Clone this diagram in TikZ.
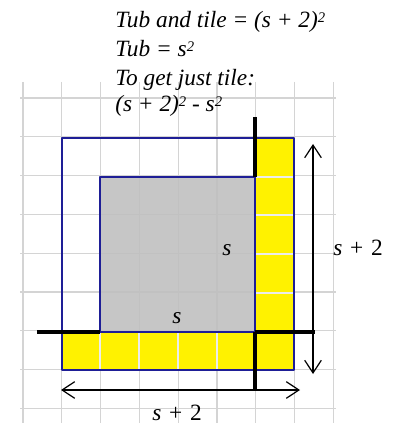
\documentclass[tikz,border=0pt]{standalone}
\usepackage{fontspec}
\setmainfont{Liberation Serif}
\usetikzlibrary{arrows.meta}
\definecolor{gridc}{RGB}{212,212,212}
\definecolor{navy}{RGB}{30,30,150}
\definecolor{tubgray}{RGB}{192,192,192}
\definecolor{tileyellow}{RGB}{255,242,0}
\definecolor{sepc}{RGB}{236,236,236}
\newcommand{\supsq}{\raisebox{0.55ex}{\fontsize{11}{11}\selectfont 2}}
\begin{document}
\begin{tikzpicture}[x=0.75pt,y=-0.75pt,
  gridline/.style={draw=gridc,line width=0.9pt},
  sepline/.style={draw=sepc,line width=1pt},
  outline/.style={draw=navy,line width=2.1pt,line join=round},
  heavy/.style={draw=black,line width=2.3pt},
  dimline/.style={draw=black,line width=0.9pt,{Straight Barb[length=9.5pt,width=12.5pt]}-{Straight Barb[length=9.5pt,width=12.5pt]}},
  txt/.style={anchor=base west,inner sep=0pt,font=\itshape\fontsize{17.5}{17.5}\selectfont},
  lbl/.style={anchor=base,inner sep=0pt,font=\fontsize{17.5}{17.5}\selectfont}]
\useasboundingbox (0,0) rectangle (401,423);
% grid
\foreach \i in {0,...,8} \draw[gridline] ({23+38.8*\i},82) -- ({23+38.8*\i},423);
\foreach \j in {0,...,8} \draw[gridline] (20,{98+38.8*\j}) -- (336,{98+38.8*\j});
% corners
\coordinate (oTL) at (62,138);
\coordinate (oBR) at (294,370);
\coordinate (iTL) at (100,177);
\coordinate (iBR) at (255,332);
% tub
\fill[tubgray,fill opacity=0.9] (iTL) rectangle (iBR);
% tile
\fill[tileyellow] (255,138) -- (294,138) -- (294,370) -- (62,370) -- (62,332) -- (255,332) -- cycle;
\foreach \x in {100,139,178,217} \draw[sepline] (\x,333) -- (\x,369);
\foreach \y in {177,215,254,293} \draw[sepline] (256,\y) -- (293,\y);
% outlines
\draw[outline] (oTL) rectangle (oBR);
\draw[outline] (iTL) rectangle (iBR);
% heavy black lines
\coordinate (vT) at (255,117);
\coordinate (vB) at (255,390);
\coordinate (hL) at (37,332);
\coordinate (hR) at (315,332);
\draw[heavy] (vT) -- (255,177);
\draw[heavy] (255,332) -- (vB);
\draw[heavy] (hL) -- (100,332);
\draw[heavy] (255,332) -- (hR);
% dimension arrows
\coordinate (a1) at (313,144);
\coordinate (a2) at (313,374);
\coordinate (b1) at (61,390);
\coordinate (b2) at (300,390);
\draw[dimline] (a1) -- (a2);
\draw[dimline] (b1) -- (b2);
% labels
\node[lbl] (sv) at (227,255) {\textit{s}};
\node[lbl] (sh) at (177,323) {\textit{s}};
\node[lbl,anchor=base west] (sv2) at (333,255) {\textit{s}\,\,+\,\,2};
\node[lbl] (sh2) at (177,420) {\textit{s}\,\,+\,\,2};
% text
\node[txt] (t1) at (115,28) {Tub and tile = (s + 2)\supsq};
\node[txt] (t2) at (115,57) {Tub = s\supsq};
\node[txt] (t3) at (115,86) {To get just tile:};
\node[txt] (t4) at (115,112) {(s + 2)\supsq\ - s\supsq};
\end{tikzpicture}
\end{document}
